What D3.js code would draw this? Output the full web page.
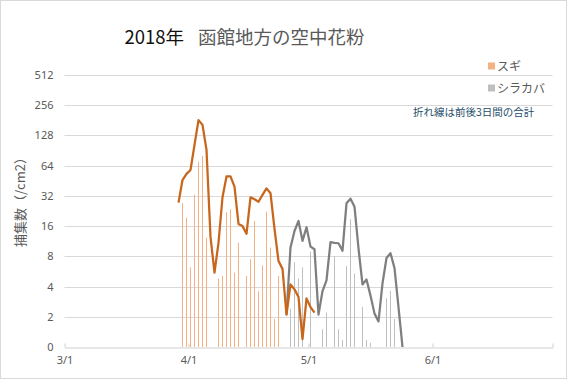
<!DOCTYPE html>
<html>
<head>
<meta charset="utf-8">
<script src="https://cdn.jsdelivr.net/npm/d3@7"></script>
<style>
  html, body { margin: 0; padding: 0; background: #fff; }
  svg { display: block; font-family: "Noto Sans CJK JP", "Noto Sans", sans-serif; }
</style>
</head>
<body>
<svg id="chart" width="567" height="379"></svg>
<script>
// daily counts (per cm2), first value is the start date
const sugiStart = "2018-03-30";
const sugiDaily = [27, 19.4, 6.2, 33, 70, 80, 12.3, 0, 0, 4.8, 5.1, 22, 23.5, 5.5, 10.9,
  0, 5.1, 7.5, 18, 3.6, 6.5, 22.3, 9.8, 1.9, 5.1];

const shirakabaStart = "2018-04-26";
const shirakabaDaily = [2.4, 7, 4.8, 6.2, 0.4, 8.9, 0.6, 0, 1.5, 2.2, 0.9, 8, 1.5, 1.17, 6.4,
  18.7, 5.4, 0.9, 2.5, 1.17, 1.1, 0.5, 0.5, 0, 3.05, 3.6, 1.9, 0.6];

// 3-day totals (line)
const sugiSumStart = "2018-03-29";
const sugiSum = [27.4, 46, 53, 58, 103, 182, 163, 92, 12.5, 5.5, 10.9, 31, 50, 50, 39.5,
  16.8, 16, 13.4, 31, 29.6, 28, 32.7, 38, 34, 15, 7.2, 6, 2.1, 4.2, 3.75, 3.15, 1.2, 3.05, 2.5, 2.2];

const shirakabaSumStart = "2018-04-25";
const shirakabaSum = [2.1, 9.8, 14.3, 18, 11.4, 15.6, 10, 9.4, 2.1, 3.6, 4.6, 11.1, 10.9, 10.8,
  9.1, 27, 30, 25, 9.6, 4.2, 4.7, 3.25, 2.15, 1.8, 4.3, 7.7, 8.6, 6.1, 2.5, 0];

const yTicks = [1, 2, 4, 8, 16, 32, 64, 128, 256, 512];
const monthTicks = ["2018-03-01", "2018-04-01", "2018-05-01", "2018-06-01", "2018-07-01"];

const svg = d3.select("#chart");
const W = 567, H = 379;
const parse = d3.timeParse("%Y-%m-%d");

const x = d3.scaleTime()
  .domain([parse("2018-03-01"), parse("2018-07-01")])
  .range([64.5, 552.5]);
const y = d3.scaleLog().base(2)
  .domain([1, 512])
  .range([347, 75]);

function series(start, vals) {
  const d0 = parse(start);
  return vals.map((v, i) => ({ date: d3.timeHour.offset(d3.timeDay.offset(d0, i), 12), v }));
}

// frame
svg.append("rect")
  .attr("x", 0.5).attr("y", 0.5)
  .attr("width", W - 1).attr("height", H - 1)
  .attr("fill", "#fff")
  .attr("stroke", "#d9d9d9");

// gridlines
svg.append("g")
  .selectAll("line")
  .data(yTicks.slice(1))
  .join("line")
  .attr("x1", x.range()[0]).attr("x2", x.range()[1])
  .attr("y1", d => Math.round(y(d)) + 0.5)
  .attr("y2", d => Math.round(y(d)) + 0.5)
  .attr("stroke", "#d9d9d9")
  .attr("stroke-width", 1);

// y axis labels
const yAxis = svg.append("g")
  .attr("transform", `translate(${x.range()[0]},0)`)
  .call(d3.axisLeft(y).tickValues(yTicks).tickSize(0).tickPadding(11)
    .tickFormat(d => d === 1 ? "0" : d));
yAxis.select(".domain").remove();
yAxis.selectAll("text")
  .attr("fill", "#595959")
  .style("font-size", "11px")
  .style("font-family", "'Noto Sans', sans-serif");

// x axis
const xAxis = svg.append("g")
  .attr("transform", "translate(0,347.5)")
  .call(d3.axisBottom(x)
    .tickValues(monthTicks.map(parse))
    .tickSizeInner(-4).tickSizeOuter(0).tickPadding(9)
    .tickFormat(d => d.getMonth() === 6 ? "" : d3.timeFormat("%-m/%-d")(d)));
xAxis.select(".domain").attr("stroke", "#d0d0d0");
xAxis.selectAll(".tick line").attr("stroke", "#d0d0d0");
xAxis.selectAll("text")
  .attr("fill", "#595959")
  .style("font-size", "11px")
  .style("font-family", "'Noto Sans', sans-serif");

// daily bars
function drawBars(data, color) {
  svg.append("g")
    .selectAll("rect")
    .data(data.filter(d => d.v >= 1))
    .join("rect")
    .attr("x", d => x(d.date) - 0.5)
    .attr("y", d => y(d.v))
    .attr("width", 1)
    .attr("height", d => y(1) - y(d.v))
    .attr("fill", color);
}
drawBars(series(sugiStart, sugiDaily), "#f4b183");
drawBars(series(shirakabaStart, shirakabaDaily), "#bfbfbf");

// 3-day total lines
const line = d3.line()
  .x(d => x(d.date))
  .y(d => y(Math.max(d.v, 1)));

svg.append("path")
  .datum(series(shirakabaSumStart, shirakabaSum))
  .attr("d", line)
  .attr("fill", "none")
  .attr("stroke", "#7f7f7f")
  .attr("stroke-width", 2.25)
  .attr("stroke-linejoin", "round");

svg.append("path")
  .datum(series(sugiSumStart, sugiSum))
  .attr("d", line)
  .attr("fill", "none")
  .attr("stroke", "#c8661c")
  .attr("stroke-width", 2.25)
  .attr("stroke-linejoin", "round");

// title
svg.append("text")
  .attr("x", 184).attr("y", 44)
  .attr("text-anchor", "end")
  .attr("fill", "#111")
  .style("font-size", "18.5px")
  .text("2018年");
svg.append("text")
  .attr("x", 198).attr("y", 44)
  .attr("fill", "#595959")
  .style("font-size", "18.5px")
  .text("函館地方の空中花粉");

// y axis title
svg.append("text")
  .attr("transform", "translate(25,199) rotate(-90)")
  .attr("text-anchor", "middle")
  .attr("fill", "#595959")
  .style("font-size", "13px")
  .text("捕集数（/cm2）");

// legend
const legend = [
  { name: "スギ", color: "#f4b183", y: 66 },
  { name: "シラカバ", color: "#bfbfbf", y: 88 }
];
const lg = svg.append("g");
lg.selectAll("rect")
  .data(legend)
  .join("rect")
  .attr("x", 488).attr("y", d => d.y - 3.5)
  .attr("width", 7).attr("height", 7)
  .attr("fill", d => d.color);
lg.selectAll("text")
  .data(legend)
  .join("text")
  .attr("x", 497).attr("y", d => d.y + 4.5)
  .attr("fill", "#595959")
  .style("font-size", "12px")
  .text(d => d.name);

svg.append("text")
  .attr("x", 413).attr("y", 116)
  .attr("fill", "#1f4e6b")
  .style("font-size", "10.5px")
  .text("折れ線は前後3日間の合計");
</script>
</body>
</html>
